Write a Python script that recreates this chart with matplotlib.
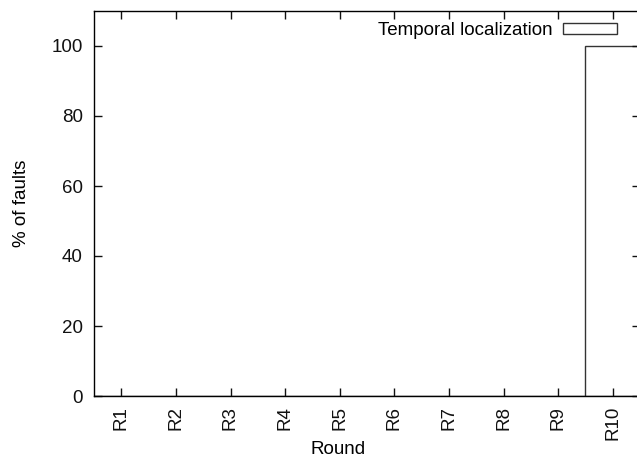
import numpy as np
import matplotlib
matplotlib.use('Agg')
import matplotlib.pyplot as plt

rounds = ['R1', 'R2', 'R3', 'R4', 'R5', 'R6', 'R7', 'R8', 'R9', 'R10']
temporal = [0, 0, 0, 0, 0, 0, 0, 0, 0, 100]

plt.rcParams['font.family'] = ['Liberation Sans', 'DejaVu Sans']
plt.rcParams['font.size'] = 13.5

fig = plt.figure(figsize=(6.37, 4.61), dpi=100)
# plot area runs a little past the right edge, as in the reference
ax = fig.add_axes([94 / 637, 65 / 461, 546 / 637, 385 / 461])

x = np.arange(1, len(rounds) + 1)
ax.bar(x, temporal, width=1.0, color='white', edgecolor='#333333',
       linewidth=1.0, label='Temporal localization')

ax.set_xlim(0.5, 10.5)
ax.set_ylim(0, 110)
ax.set_xticks(x)
ax.set_xticklabels(rounds, rotation=90)
ax.set_yticks(np.arange(0, 101, 20))

ax.tick_params(direction='in', length=5.8, width=1.0, top=True, right=True,
               colors='#111111')
ax.tick_params(axis='x', pad=7)
ax.tick_params(axis='y', pad=8)
for s in ax.spines.values():
    s.set_linewidth(1.0)

ax.set_ylabel('% of faults')
ax.yaxis.set_label_coords(-0.117, 0.5)
ax.set_xlabel('Round')
ax.xaxis.set_label_coords(0.447, -0.118)

ax.legend(loc='upper right', bbox_to_anchor=(617 / 637, 439 / 461),
          bbox_transform=fig.transFigure, frameon=False, borderpad=0,
          borderaxespad=0, handlelength=2.9, handleheight=0.5,
          handletextpad=0.55, markerfirst=False)

fig.savefig('out.png', dpi=100)
